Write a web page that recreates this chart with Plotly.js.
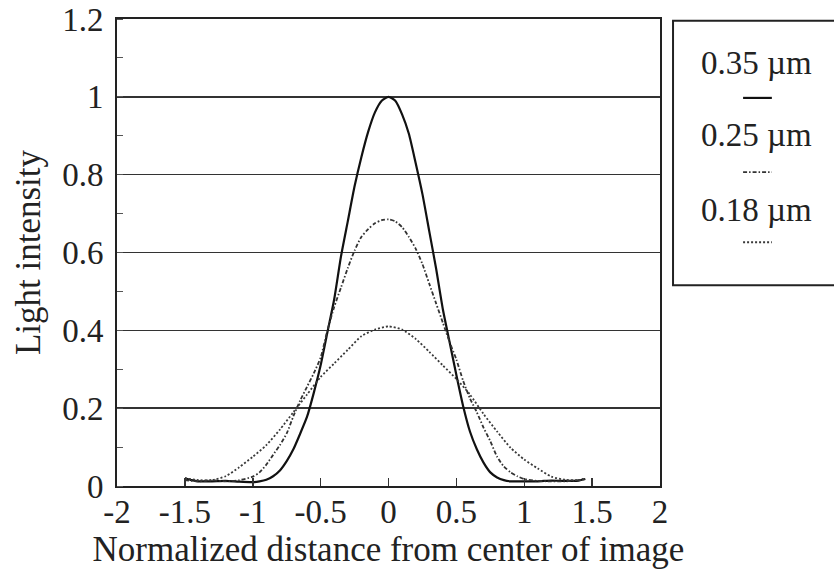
<!DOCTYPE html>
<html>
<head>
<meta charset="utf-8">
<script src="https://cdn.plot.ly/plotly-3.0.1.min.js"></script>
<style>html,body{margin:0;padding:0;background:#fff;}#chart{width:834px;height:580px;}</style>
</head>
<body>
<div id="chart"></div>
<script>
// Series: 0.35 µm (solid)
const x035 = [-1.5,-1.45,-1.4,-1.3,-1.2,-1.1,-1.0,-0.95,-0.9,-0.85,-0.8,-0.75,-0.7,-0.65,-0.6,-0.55,-0.5,-0.45,-0.4,-0.35,-0.3,-0.25,-0.2,-0.15,-0.1,-0.05,0,0.05,0.1,0.15,0.2,0.25,0.3,0.35,0.4,0.45,0.5,0.55,0.6,0.65,0.7,0.75,0.8,0.85,0.9,1.0,1.1,1.2,1.3,1.4,1.45];
const y035 = [0.02,0.015,0.012,0.012,0.013,0.011,0.01,0.012,0.016,0.025,0.04,0.064,0.095,0.135,0.178,0.24,0.31,0.395,0.48,0.59,0.68,0.77,0.845,0.91,0.96,0.99,1.0,0.99,0.955,0.905,0.83,0.75,0.655,0.56,0.455,0.37,0.285,0.205,0.14,0.095,0.06,0.035,0.022,0.015,0.012,0.012,0.012,0.014,0.013,0.014,0.018];
// Series: 0.25 µm (dash-dot)
const x025 = [-1.5,-1.4,-1.3,-1.2,-1.1,-1.0,-0.95,-0.9,-0.85,-0.8,-0.75,-0.7,-0.65,-0.6,-0.55,-0.5,-0.45,-0.4,-0.35,-0.3,-0.25,-0.2,-0.15,-0.1,-0.05,0,0.05,0.1,0.15,0.2,0.25,0.3,0.35,0.4,0.45,0.5,0.55,0.6,0.65,0.7,0.75,0.8,0.85,0.9,0.95,1.0,1.1,1.2,1.3,1.4,1.45];
const y025 = [0.015,0.012,0.015,0.012,0.015,0.024,0.035,0.055,0.08,0.105,0.135,0.18,0.22,0.255,0.29,0.33,0.40,0.46,0.51,0.56,0.605,0.64,0.66,0.675,0.683,0.685,0.68,0.665,0.64,0.61,0.57,0.52,0.47,0.42,0.37,0.325,0.27,0.225,0.19,0.15,0.115,0.075,0.05,0.035,0.025,0.018,0.013,0.012,0.012,0.015,0.02];
// Series: 0.18 µm (dotted)
const x018 = [-1.5,-1.4,-1.3,-1.2,-1.1,-1.0,-0.9,-0.8,-0.7,-0.6,-0.5,-0.4,-0.3,-0.2,-0.1,0,0.1,0.2,0.3,0.4,0.5,0.6,0.7,0.8,0.9,1.0,1.1,1.2,1.3,1.4,1.45];
const y018 = [0.02,0.015,0.015,0.025,0.048,0.075,0.105,0.145,0.19,0.235,0.28,0.315,0.35,0.385,0.402,0.41,0.402,0.378,0.345,0.31,0.275,0.235,0.185,0.14,0.098,0.068,0.045,0.024,0.016,0.015,0.018];

const seriesNames = ["0.35 µm","0.25 µm","0.18 µm"];
const xTicks = [-2,-1.5,-1,-0.5,0,0.5,1,1.5,2];
const xTickText = ["-2","-1.5","-1","-0.5","0","0.5","1","1.5","2"];
const yTicks = [0,0.2,0.4,0.6,0.8,1,1.2];
const yTickText = ["0","0.2","0.4","0.6","0.8","1","1.2"];

const FONT = "Liberation Serif, Times New Roman, serif";
const FS = 33;
const FT = 35;
const styles = [
  {color:"#111", width:2.2, dash:"solid"},
  {color:"#333", width:1.8, dash:"4px,2px,1.5px,2px"},
  {color:"#3a3a3a", width:1.8, dash:"2px,2px"}
];
const xs=[x035,x025,x018], ys=[y035,y025,y018];
const traces = xs.map((x,i)=>({
  x:x, y:ys[i], type:"scatter", mode:"lines", name:seriesNames[i],
  line:{color:styles[i].color, width:styles[i].width, dash:styles[i].dash, shape:"spline", smoothing:0.6},
  showlegend:false, hoverinfo:"skip"
}));

// custom legend (text above, sample line below)
const legY = [0.906,0.752,0.591];
const sampY = [0.831,0.672,0.522];
const annotations = seriesNames.map((n,i)=>({
  xref:"paper", yref:"paper", x:1.1786, y:legY[i], text:n, showarrow:false,
  xanchor:"center", yanchor:"middle", font:{family:FONT, size:FS, color:"#222"}
}));
const shapes = [
  {type:"rect", xref:"paper", yref:"paper", x0:1.024, x1:1.34, y0:0.43, y1:0.996, line:{color:"#222", width:2}, fillcolor:"rgba(0,0,0,0)"}
];
seriesNames.forEach((n,i)=>{
  shapes.push({type:"line", xref:"paper", yref:"paper", x0:1.153, x1:1.206, y0:sampY[i], y1:sampY[i],
    line:{color:styles[i].color, width:styles[i].width, dash:styles[i].dash}});
});

const layout = {
  width:834, height:580,
  margin:{l:117, r:174, t:19, b:94},
  paper_bgcolor:"#fff", plot_bgcolor:"#fff",
  font:{family:FONT, size:FS, color:"#222"},
  xaxis:{
    range:[-2,2], tickvals:xTicks, ticktext:xTickText,
    ticks:"inside", ticklen:8, tickwidth:1.5, tickcolor:"#333",
    showgrid:false, zeroline:false,
    showline:true, linecolor:"#222", linewidth:2, mirror:true,
    ticklabelstandoff:-5,
    tickfont:{family:FONT, size:FS, color:"#222"},
    title:{text:"Normalized distance from center of image", font:{family:FONT, size:FT, color:"#222"}, standoff:2}
  },
  yaxis:{
    range:[0,1.2], tickvals:yTicks, ticktext:yTickText,
    ticks:"", showgrid:true, gridcolor:"#333", gridwidth:1.5,
    zeroline:false, showline:true, linecolor:"#222", linewidth:2, mirror:true,
    ticklabelstandoff:5,
    minor:{dtick:0.1, tick0:0, ticks:"inside", ticklen:6, tickcolor:"#555", showgrid:false},
    tickfont:{family:FONT, size:FS, color:"#222"},
    title:{text:"Light intensity", font:{family:FONT, size:FT, color:"#222"}, standoff:11}
  },
  annotations:annotations,
  shapes:shapes
};
Plotly.newPlot("chart", traces, layout, {staticPlot:true, displayModeBar:false});
</script>
</body>
</html>
